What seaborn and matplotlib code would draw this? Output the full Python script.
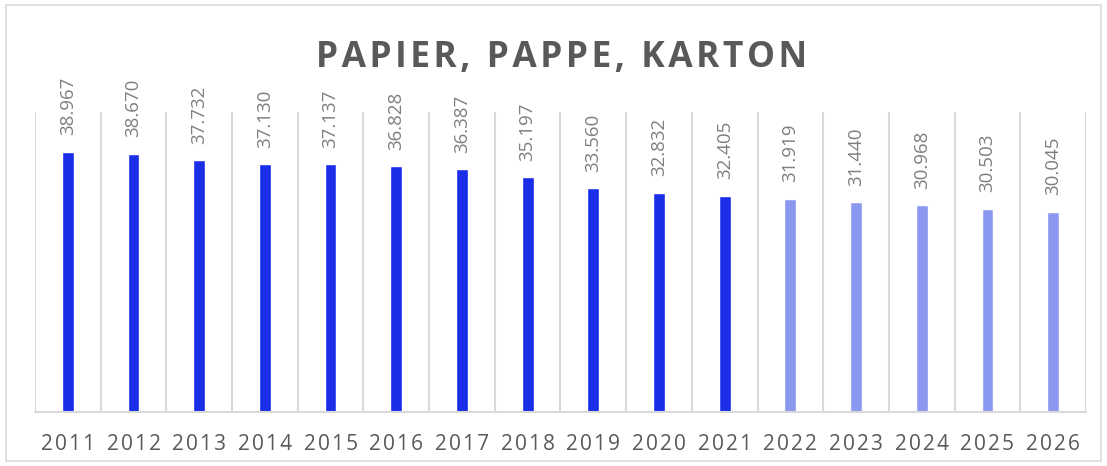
import matplotlib
matplotlib.use("Agg")
import matplotlib.pyplot as plt
import seaborn as sns
import pandas as pd
from matplotlib.patches import Rectangle

# Data
years = ["2011", "2012", "2013", "2014", "2015", "2016", "2017", "2018",
         "2019", "2020", "2021", "2022", "2023", "2024", "2025", "2026"]
values = [38967, 38670, 37732, 37130, 37137, 36828, 36387, 35197,
          33560, 32832, 32405, 31919, 31440, 30968, 30503, 30045]
kind = ["Ist"] * 11 + ["Prognose"] * 5
title = "PAPIER, PAPPE, KARTON"

df = pd.DataFrame({"Jahr": years, "Wert": values, "Art": kind})

sns.set_style("white")
plt.rcParams["font.family"] = ["Open Sans", "DejaVu Sans"]

fig = plt.figure(figsize=(11.07, 4.66), dpi=100)
ax = fig.add_axes([0.0316, 0.1159, 0.9494, 0.644])

sns.barplot(data=df, x="Jahr", y="Wert", hue="Art",
            palette={"Ist": "#1a2ee8", "Prognose": "#8b98f0"},
            saturation=1, width=0.18, dodge=False, legend=False, ax=ax)

ax.set_ylim(0, 45000)
ax.set_xlim(-0.5, len(years) - 0.5)
ax.set_yticks([])
ax.set_xlabel("")
ax.set_ylabel("")

# category separators
ax.set_xticks([i - 0.5 for i in range(len(years) + 1)], minor=True)
ax.grid(True, which="minor", axis="x", color="#d9d9d9", linewidth=1.5)
ax.tick_params(axis="x", which="both", length=0, pad=16)
# letter-spaced year labels
ax.set_xticks(range(len(years)))
ax.set_xticklabels(["\u200a".join(y) for y in years], fontsize=15, color="#595959")

for s in ["top", "right", "left"]:
    ax.spines[s].set_visible(False)
ax.spines["bottom"].set_color("#d9d9d9")
ax.spines["bottom"].set_linewidth(1.5)

# value labels
for i, v in enumerate(values):
    ax.annotate(f"{v:,}".replace(",", "."), (i, v), xytext=(0, 12),
                textcoords="offset points", rotation=90, ha="center",
                va="bottom", fontsize=13.5, color="#7f7f7f")

fig.text(0.507, 0.856, "\u200a".join(title), ha="center", va="baseline",
         fontsize=25.5, fontweight="bold", color="#595959")

fig.patches.append(Rectangle((0.005, 0.011), 0.99, 0.978, transform=fig.transFigure,
                             fill=False, edgecolor="#d9d9d9", linewidth=1.2))

fig.savefig("out.png", dpi=100)
